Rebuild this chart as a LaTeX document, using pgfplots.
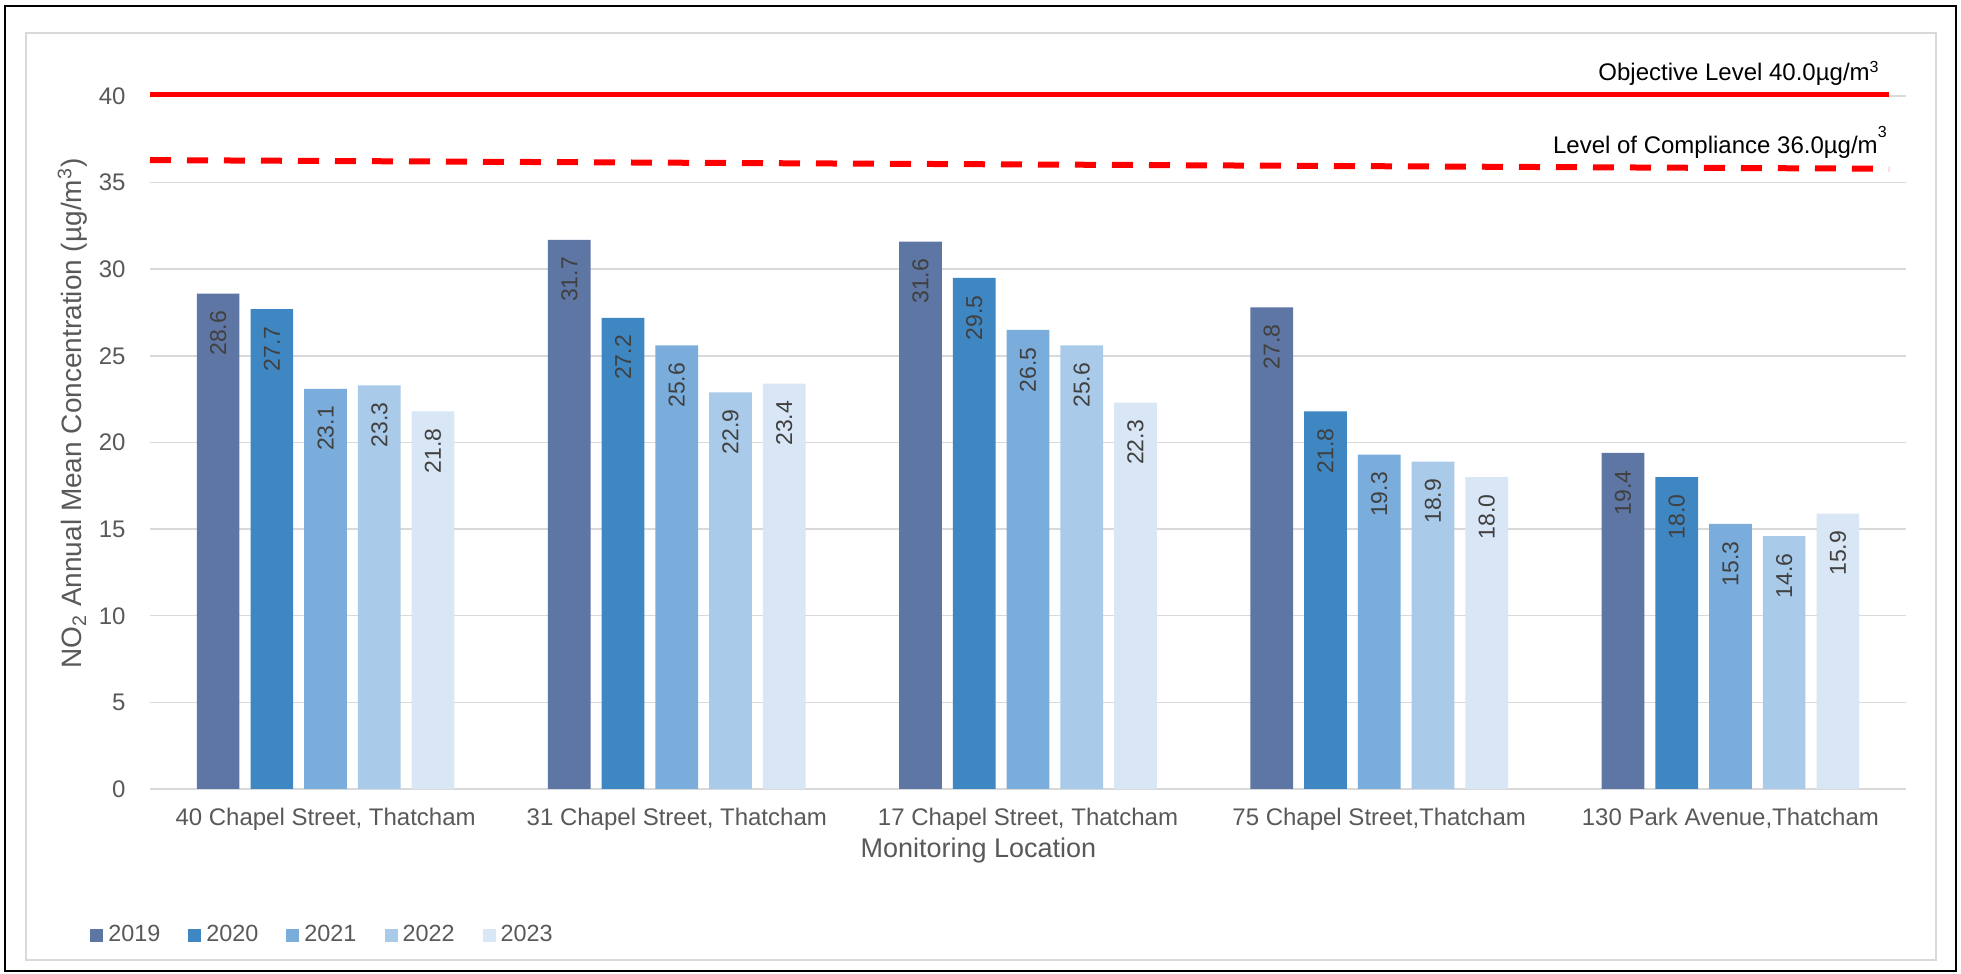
\documentclass[border=0pt]{standalone}
\usepackage{fontspec}
\setmainfont{Liberation Sans}
\usepackage{pgfplots}
\pgfplotsset{compat=1.18}
\definecolor{c19}{RGB}{94,118,163}
\definecolor{c20}{RGB}{63,135,195}
\definecolor{c21}{RGB}{122,173,220}
\definecolor{c22}{RGB}{169,202,232}
\definecolor{c23}{RGB}{216,230,245}
\definecolor{tickgray}{RGB}{89,89,89}
\definecolor{gridgray}{RGB}{217,217,217}
\definecolor{lblgray}{RGB}{64,64,64}
\begin{document}
\begin{tikzpicture}
\useasboundingbox (-75pt,-92.5pt) rectangle (905.5pt,394.5pt);
\fill[white] (-75pt,-92.5pt) rectangle (905.5pt,394.5pt);
\draw[black, line width=1pt] (-72.5pt,-91pt) rectangle (903pt,391.5pt);
\draw[gridgray, line width=1pt] (-62pt,-85.5pt) rectangle (893pt,378pt);
\begin{axis}[
  scale only axis, width=878pt, height=346.5pt,
  xmin=-0.5, xmax=4.5, ymin=0, ymax=40,
  xtick={0,1,2,3,4},
  xticklabels={{40 Chapel Street, Thatcham},{31 Chapel Street, Thatcham},{17 Chapel Street, Thatcham},{75 Chapel Street,Thatcham},{130 Park Avenue,Thatcham}},
  ytick={0,5,...,40},
  ymajorgrids, grid style={gridgray, line width=0.75pt},
  axis line style={draw=none},
  major tick length=0pt,
  tick label style={font=\fontsize{12}{14}\selectfont, text=tickgray},
  xticklabel style={inner sep=0pt, yshift=-9.5pt, anchor=north},
  yticklabel style={inner sep=0pt, xshift=-12pt, anchor=east},
  /pgf/number format/assume math mode=true,
  xlabel={Monitoring Location},
  xlabel style={at={(axis description cs:0.4718,0)}, anchor=north, yshift=-24.5pt, inner sep=0pt, font=\fontsize{13.5}{16}\selectfont, text=tickgray},
  ylabel={NO\textsubscript{2} Annual Mean Concentration (µg/m\textsuperscript{3})},
  ylabel style={at={(axis description cs:-0.044,0.5418)}, anchor=center, inner sep=0pt, font=\fontsize{14}{16}\selectfont, text=tickgray},
  legend columns=5,
  legend style={at={(axis description cs:-0.0342,-0.2107)}, anchor=west, draw=none, fill=none, inner sep=0pt,
    font=\fontsize{11.7}{14}\selectfont, text=tickgray,
    nodes={inner xsep=2.5pt, inner ysep=0pt},
    /tikz/every even column/.append style={column sep=11.5pt}},
  clip=false,
  mybar/.style={ybar, bar width=0.1216, bar shift=0, draw=none,
    legend image code/.code={\fill[##1] (0pt,-3.25pt) rectangle (6.5pt,3.25pt);},
    nodes near coords,
    nodes near coords style={rotate=90, anchor=east, inner xsep=8.5pt, inner ysep=0pt,
      font=\fontsize{11.5}{13}\selectfont, text=lblgray,
      /pgf/number format/fixed, /pgf/number format/fixed zerofill, /pgf/number format/precision=1}},
]
\addplot[mybar, fill=c19, x filter/.expression={x-0.306}] coordinates {(0,28.6) (1,31.7) (2,31.6) (3,27.8) (4,19.4)};
\addplot[mybar, fill=c20, x filter/.expression={x-0.153}] coordinates {(0,27.7) (1,27.2) (2,29.5) (3,21.8) (4,18.0)};
\addplot[mybar, fill=c21] coordinates {(0,23.1) (1,25.6) (2,26.5) (3,19.3) (4,15.3)};
\addplot[mybar, fill=c22, x filter/.expression={x+0.153}] coordinates {(0,23.3) (1,22.9) (2,25.6) (3,18.9) (4,14.6)};
\addplot[mybar, fill=c23, x filter/.expression={x+0.306}] coordinates {(0,21.8) (1,23.4) (2,22.3) (3,18.0) (4,15.9)};
\legend{2019,2020,2021,2022,2023}
\addplot[sharp plot, red, line width=2.75pt, forget plot] coordinates {(-0.5,40.1) (4.452,40.1)};
\addplot[sharp plot, red, line width=3pt, dash pattern=on 10.5pt off 8pt, forget plot] coordinates {(-0.5,36.3) (4.452,35.8)};
\node[anchor=base east, inner sep=0pt, font=\fontsize{12}{14}\selectfont] at (axis cs:4.426,40.87) {Objective Level 40.0µg/m\textsuperscript{3}};
\node[anchor=base east, inner sep=0pt, font=\fontsize{12}{14}\selectfont] at (axis cs:4.449,36.69) {Level of Compliance 36.0µg/m\raisebox{0.55ex}{\textsuperscript{3}}};
\end{axis}
\end{tikzpicture}
\end{document}
